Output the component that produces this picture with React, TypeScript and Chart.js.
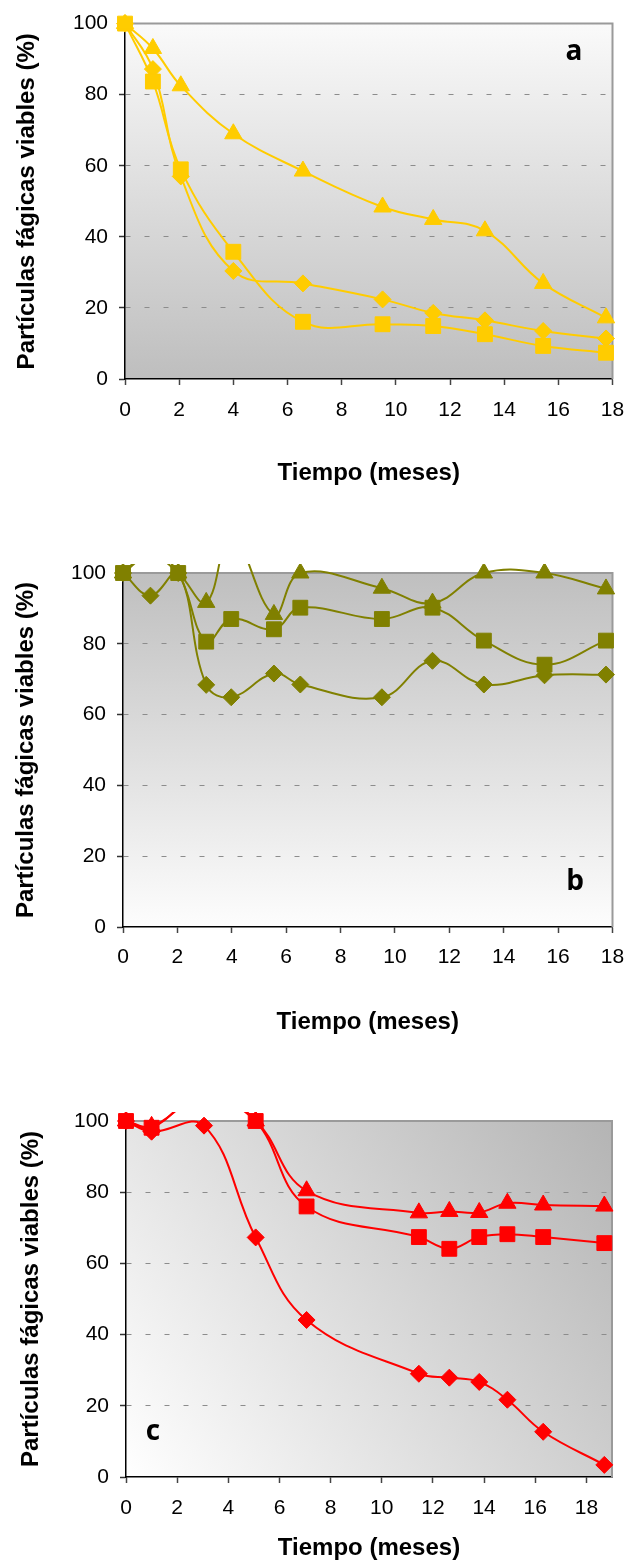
import { useEffect, useRef } from "react";
import { Chart, registerables } from "chart.js";

Chart.register(...registerables);

// ---- data -------------------------------------------------------------

// Panel a
const monthsA = [0, 1.03, 2.06, 4.0, 6.57, 9.51, 11.38, 13.29, 15.44, 17.76];
const aDiamonds = [100, 87.2, 57, 30.4, 26.9, 22.4, 18.6, 16.5, 13.5, 11.4];
const aSquares = [100, 83.7, 59, 35.8, 16.1, 15.4, 14.9, 12.6, 9.3, 7.4];
const aTriangles = [100, 93, 82.5, 69, 58.5, 48.4, 44.9, 41.7, 26.9, 17.2];

// Panel b
const monthsB = [0, 1.01, 2.03, 3.06, 3.98, 5.55, 6.52, 9.52, 11.38, 13.27, 15.5, 17.76];
const bDiamonds = [100, 93.6, 100, 68.4, 64.9, 71.6, 68.5, 64.9, 75.2, 68.5, 71.1, 71.3];
const bSquares = [100, 106, 100, 80.6, 87.0, 84.1, 90.2, 87.0, 90.2, 80.9, 74.1, 80.9];
const bTriangles = [100, 105, 100, 91.7, 111, 88.3, 100, 95.7, 91.5, 100, 100, 95.5];

// Panel c
const monthsC = [0, 1.0, 3.05, 5.07, 7.06, 11.45, 12.64, 13.81, 14.91, 16.31, 18.7];
const cDiamonds = [100, 97, 98.7, 67.3, 44.1, 29.0, 27.9, 26.7, 21.7, 12.7, 3.4];
const cSquares = [100, 98.1, 108, 100, 76.0, 67.4, 64.1, 67.4, 68.2, 67.4, 65.7];
const cTriangles = [100, 98.5, 107, 100, 80.4, 74.2, 74.6, 74.3, 76.9, 76.4, 76.1];

const yTitle = "Partículas fágicas viables (%)";
const xTitle = "Tiempo (meses)";
const panelLetters = ["a", "b", "c"];
const seriesColors = ["#FFCC00", "#808000", "#FF0000"];

// ---- layout -----------------------------------------------------------

const PAGE_W = 624;
const FONT = '"Liberation Sans", Arial, Helvetica, sans-serif';

type Panel = {
  letter: string;
  color: string;
  months: number[];
  diamonds: number[];
  squares: number[];
  triangles: number[];
  canvasTop: number;
  height: number;
  plotLeft: number;
  plotRight: number;
  plotTop: number;
  plotBottom: number;
  xMax: number;
  labelsY: number;
  titleY: number;
  yTitleX: number;
  letterX: number;
  letterY: number;
  shade: "down" | "up" | "diag";
};

const panels: Panel[] = [
  {
    letter: panelLetters[0], color: seriesColors[0],
    months: monthsA, diamonds: aDiamonds, squares: aSquares, triangles: aTriangles,
    canvasTop: 0, height: 510,
    plotLeft: 125, plotRight: 613, plotTop: 22, plotBottom: 379, xMax: 18,
    labelsY: 410, titleY: 473, yTitleX: 27, letterX: 574, letterY: 60, shade: "down",
  },
  {
    letter: panelLetters[1], color: seriesColors[1],
    months: monthsB, diamonds: bDiamonds, squares: bSquares, triangles: bTriangles,
    canvasTop: 530, height: 530,
    plotLeft: 123, plotRight: 615, plotTop: 573, plotBottom: 927, xMax: 18,
    labelsY: 957, titleY: 1022, yTitleX: 26, letterX: 575, letterY: 890, shade: "up",
  },
  {
    letter: panelLetters[2], color: seriesColors[2],
    months: monthsC, diamonds: cDiamonds, squares: cSquares, triangles: cTriangles,
    canvasTop: 1070, height: 492,
    plotLeft: 126, plotRight: 612, plotTop: 1121, plotBottom: 1477, xMax: 19,
    labelsY: 1508, titleY: 1548, yTitleX: 31, letterX: 153, letterY: 1440, shade: "diag",
  },
];

// Background shading, plot frame and panel letter
const plotDecor = {
  id: "plotDecor",
  beforeDraw(chart: any, _args: any, opts: any) {
    const { ctx, chartArea } = chart;
    const { left, top, right, bottom } = chartArea;
    let g: CanvasGradient;
    if (opts.shade === "down") {
      g = ctx.createLinearGradient(0, top, 0, bottom);
      g.addColorStop(0, "#fafafa");
      g.addColorStop(1, "#bebebe");
    } else if (opts.shade === "up") {
      g = ctx.createLinearGradient(0, top, 0, bottom);
      g.addColorStop(0, "#bfbfbf");
      g.addColorStop(1, "#fdfdfd");
    } else {
      g = ctx.createLinearGradient(left, bottom, right, top);
      g.addColorStop(0, "#ffffff");
      g.addColorStop(1, "#b4b4b4");
    }
    ctx.save();
    ctx.fillStyle = g;
    ctx.fillRect(left, top, right - left, bottom - top);
    ctx.restore();
  },
  beforeDatasetsDraw(chart: any) {
    const { ctx, chartArea } = chart;
    const { left, top, right, bottom } = chartArea;
    ctx.save();
    ctx.strokeStyle = "#9a9a9a";
    ctx.lineWidth = 2;
    ctx.beginPath();
    ctx.moveTo(left, top);
    ctx.lineTo(right, top);
    ctx.lineTo(right, bottom);
    ctx.stroke();
    ctx.restore();
  },
  afterDraw(chart: any, _args: any, opts: any) {
    const { ctx } = chart;
    ctx.save();
    ctx.fillStyle = "#000";
    ctx.font = 'bold 28px "Open Sans", "Noto Sans", sans-serif';
    ctx.textAlign = "center";
    ctx.textBaseline = "alphabetic";
    ctx.fillText(opts.letter, opts.x, opts.y);
    ctx.restore();
  },
};

function makeChart(canvas: HTMLCanvasElement, p: Panel) {
  const pts = (vals: number[]) => p.months.map((m, i) => ({ x: m, y: vals[i] }));
  const clip = { left: 12, top: 9, right: 12, bottom: 12 };
  const common = {
    borderColor: p.color,
    backgroundColor: p.color,
    pointBorderColor: p.color,
    pointBackgroundColor: p.color,
    borderWidth: 2,
    pointBorderWidth: 1,
    clip,
  };
  const tickFont = { family: FONT, size: 21 };
  const titleFont = { family: FONT, size: 24, weight: "bold" as const };
  const titleHalf = (24 * 1.2) / 2;
  const tickHalf = (21 * 1.2) / 2;

  return new Chart(canvas, {
    type: "line",
    data: {
      datasets: [
        { ...common, data: pts(p.triangles), pointStyle: "triangle", pointRadius: 10 },
        { ...common, data: pts(p.squares), pointStyle: "rect", pointRadius: 10.5 },
        { ...common, data: pts(p.diamonds), pointStyle: "rectRot", pointRadius: 8.5 },
      ],
    },
    options: {
      animation: false,
      responsive: false,
      devicePixelRatio: 1,
      layout: {
        padding: {
          left: 0,
          top: p.plotTop - p.canvasTop,
          right: PAGE_W - p.plotRight,
          bottom: 0,
        },
      },
      elements: {
        line: { tension: 0.4, capBezierPoints: false, fill: false },
      },
      plugins: {
        legend: { display: false },
        tooltip: { enabled: false },
        plotDecor: { shade: p.shade, letter: p.letter, x: p.letterX, y: p.letterY - p.canvasTop },
      } as any,
      scales: {
        x: {
          type: "linear",
          min: 0,
          max: p.xMax,
          afterFit: (s: any) => {
            s.height = p.canvasTop + p.height - p.plotBottom;
            s.paddingLeft = 0;
            s.paddingRight = 0;
          },
          ticks: {
            stepSize: 2,
            includeBounds: false,
            autoSkip: false,
            maxRotation: 0,
            color: "#000",
            font: tickFont,
            padding: p.labelsY - p.plotBottom - 6 - tickHalf,
          },
          grid: { drawOnChartArea: false, drawTicks: true, tickLength: 6, tickColor: "#444", tickWidth: 1.5 },
          border: { color: "#000", width: 1.5 },
          title: {
            display: true,
            text: xTitle,
            color: "#000",
            font: titleFont,
            padding: { top: 0, bottom: p.canvasTop + p.height - p.titleY - titleHalf },
          },
        },
        y: {
          min: 0,
          max: 100,
          afterFit: (s: any) => {
            s.width = p.plotLeft;
          },
          ticks: { stepSize: 20, color: "#000", font: tickFont, padding: 11 },
          grid: {
            color: (c: any) =>
              c.tick && (c.tick.value === 0 || c.tick.value === 100) ? "rgba(0,0,0,0)" : "#8c8c8c",
            lineWidth: 1,
            tickLength: 6,
            tickColor: "#333",
            tickWidth: 1.5,
          },
          border: { color: "#000", width: 1.5, dash: [5, 14] },
          title: {
            display: true,
            text: yTitle,
            color: "#000",
            font: titleFont,
            padding: { top: p.yTitleX - titleHalf, bottom: 0 },
          },
        },
      },
    } as any,
    plugins: [plotDecor],
  });
}

function PanelChart({ panel }: { panel: Panel }) {
  const ref = useRef<HTMLCanvasElement>(null);
  useEffect(() => {
    if (!ref.current) return;
    const chart = makeChart(ref.current, panel);
    return () => chart.destroy();
  }, [panel]);
  return (
    <canvas
      ref={ref}
      width={PAGE_W}
      height={panel.height}
      style={{ position: "absolute", left: 0, top: panel.canvasTop, width: PAGE_W, height: panel.height }}
    />
  );
}

export default function App() {
  return (
    <div style={{ position: "absolute", left: 0, top: 0, width: PAGE_W, height: 1562, background: "#fff" }}>
      {panels.map((p) => (
        <PanelChart key={p.letter} panel={p} />
      ))}
    </div>
  );
}
